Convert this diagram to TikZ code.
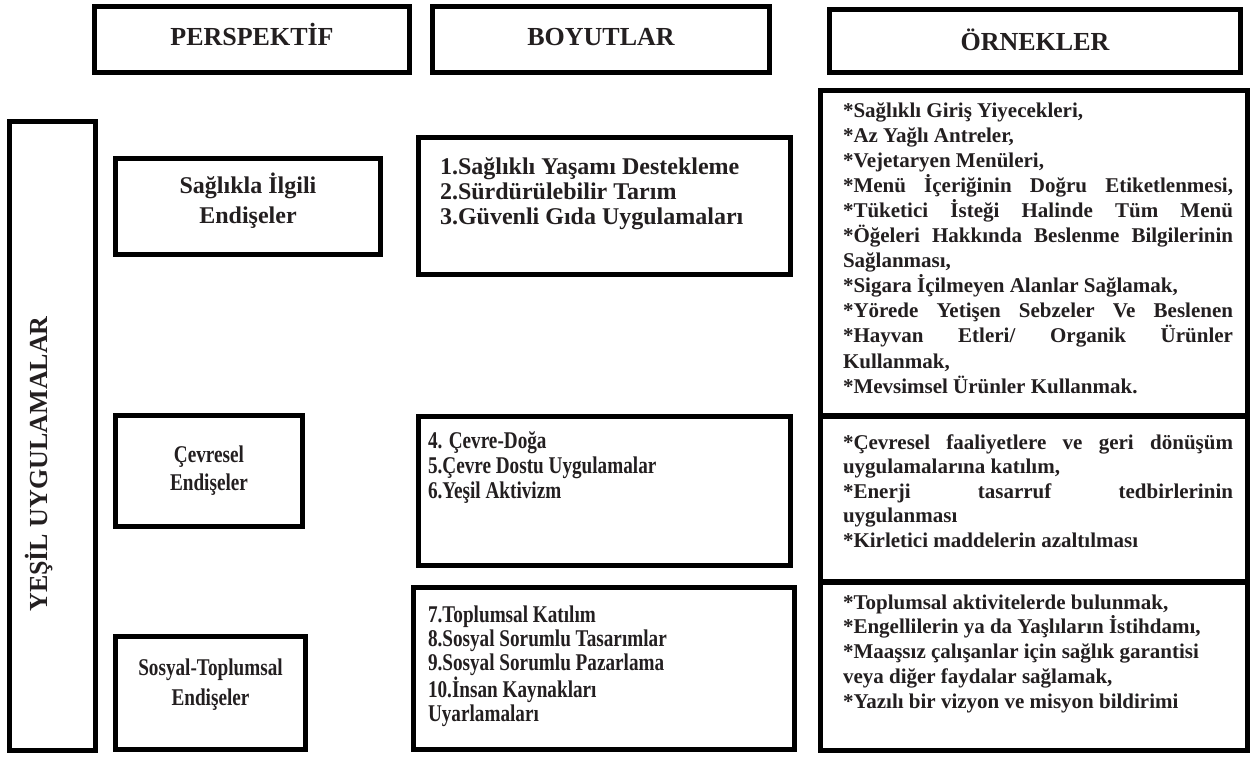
\documentclass[tikz,border=0pt]{standalone}
\usepackage{fontspec}
\usepackage{tikz}
\setmainfont{Liberation Serif}
\newfontfamily\condserif[FakeStretch=0.8]{Liberation Serif}
\definecolor{ink}{RGB}{35,31,32}
% one line stretched to the full width of its paragraph
\newcommand\justline[1]{\makebox[\linewidth][s]{#1}}
% a star at the start of a line (kept apart from a preceding \\)
\newcommand\st{{}*}

\begin{document}
\begin{tikzpicture}[x=1pt, y=-1pt,
  box/.style={draw=black, line width=5pt, inner sep=0pt, outer sep=0pt, fill=white},
  txt/.style={inner sep=0pt, outer sep=0pt, text=ink, font=\bfseries},
  headfont/.style={font=\fontsize{26}{28}\selectfont\bfseries},
]
\useasboundingbox[fill=white] (0,0) rectangle (1254,758);

% ---- column headers
\node[box, minimum width=315pt, minimum height=66pt] (h1) at (252,39.5) {};
\node[box, minimum width=337pt, minimum height=66pt] (h2) at (601,39.5) {};
\node[box, minimum width=411pt, minimum height=63pt] (h3) at (1035,41) {};
\node[txt, headfont, anchor=base] (h1t) at (252,45) {PERSPEKTİF};
\node[txt, headfont, anchor=base] (h2t) at (601,45) {BOYUTLAR};
\node[txt, headfont, anchor=base] (h3t) at (1035,50) {ÖRNEKLER};

% ---- side label
\node[box, minimum width=86pt, minimum height=629pt] (yb) at (52.5,436) {};
\node[txt, headfont, rotate=90, anchor=base] (ybt) at (47,464) {YEŞİL UYGULAMALAR};

% ---- perspective boxes
\node[box, minimum width=265pt, minimum height=96pt] (p1) at (248,206.5) {};
\node[box, minimum width=187pt, minimum height=111pt] (p2) at (209,471) {};
\node[box, minimum width=190pt, minimum height=113pt] (p3) at (210.5,693) {};

\node[txt, anchor=base] (p1t) at (248,193)
  {\parbox[t]{260pt}{\fontsize{24}{30}\selectfont\bfseries\centering
   Sağlıkla İlgili\\Endişeler}};
\node[txt, anchor=base] (p2t) at (209,462)
  {\parbox[t]{180pt}{\condserif\fontsize{24}{28}\selectfont\bfseries\centering
   Çevresel\\Endişeler}};
\node[txt, anchor=base] (p3t) at (210.5,675)
  {\parbox[t]{185pt}{\condserif\fontsize{24}{30}\selectfont\bfseries\centering
   Sosyal-Toplumsal\\Endişeler}};

% ---- dimension boxes
\node[box, minimum width=372pt, minimum height=137pt] (b1) at (604.5,206) {};
\node[box, minimum width=372pt, minimum height=149pt] (b2) at (604.5,491) {};
\node[box, minimum width=381pt, minimum height=162pt] (b3) at (604,668.5) {};

\node[txt, anchor=base west] (b1t) at (440,174)
  {\parbox[t]{345pt}{\fontsize{24}{25}\selectfont\bfseries
   1.Sağlıklı Yaşamı Destekleme\\
   2.Sürdürülebilir Tarım\\
   3.Güvenli Gıda Uygulamaları}};
\node[txt, anchor=base west] (b2t) at (428,448)
  {\parbox[t]{355pt}{\condserif\fontsize{24}{25}\selectfont\bfseries
   4. Çevre-Doğa\\
   5.Çevre Dostu Uygulamalar\\
   6.Yeşil Aktivizm}};
\node[txt, anchor=base west] (b3t) at (428,622)
  {\parbox[t]{355pt}{\condserif\fontsize{24}{24.3}\selectfont\bfseries
   7.Toplumsal Katılım\\
   8.Sosyal Sorumlu Tasarımlar\\
   9.Sosyal Sorumlu Pazarlama\\
   10.İnsan Kaynakları\\
   Uyarlamaları}};

% ---- example boxes
\node[box, minimum width=427pt, minimum height=325pt] (e1) at (1034,253) {};
\node[box, minimum width=427pt, minimum height=165pt] (e2) at (1034,499) {};
\node[box, minimum width=427pt, minimum height=168pt] (e3) at (1034,666.5) {};

\node[txt, anchor=base west] (e1t) at (843,117)
  {\parbox[t]{390pt}{\fontsize{21}{25.1}\selectfont\bfseries
   \st Sağlıklı Giriş Yiyecekleri,\\
   \st Az Yağlı Antreler,\\
   \st Vejetaryen Menüleri,\\
   \justline{*Menü İçeriğinin Doğru Etiketlenmesi,}\\
   \justline{*Tüketici İsteği Halinde Tüm Menü}\\
   \justline{*Öğeleri Hakkında Beslenme Bilgilerinin}\\
   Sağlanması,\\
   \st Sigara İçilmeyen Alanlar Sağlamak,\\
   \justline{*Yörede Yetişen Sebzeler Ve Beslenen}\\
   \justline{*Hayvan Etleri/ Organik Ürünler}\\
   Kullanmak,\\
   \st Mevsimsel Ürünler Kullanmak.}};
\node[txt, anchor=base west] (e2t) at (843,449)
  {\parbox[t]{390pt}{\fontsize{21}{24.5}\selectfont\bfseries
   \justline{*Çevresel faaliyetlere ve geri dönüşüm}\\
   uygulamalarına katılım,\\
   \justline{*Enerji tasarruf tedbirlerinin}\\
   uygulanması\\
   \st Kirletici maddelerin azaltılması}};
\node[txt, anchor=base west] (e3t) at (843,609)
  {\parbox[t]{390pt}{\fontsize{21}{24.8}\selectfont\bfseries
   \st Toplumsal aktivitelerde bulunmak,\\
   \st Engellilerin ya da Yaşlıların İstihdamı,\\
   \st Maaşsız çalışanlar için sağlık garantisi\\
   veya diğer faydalar sağlamak,\\
   \st Yazılı bir vizyon ve misyon bildirimi}};
\end{tikzpicture}
\end{document}
